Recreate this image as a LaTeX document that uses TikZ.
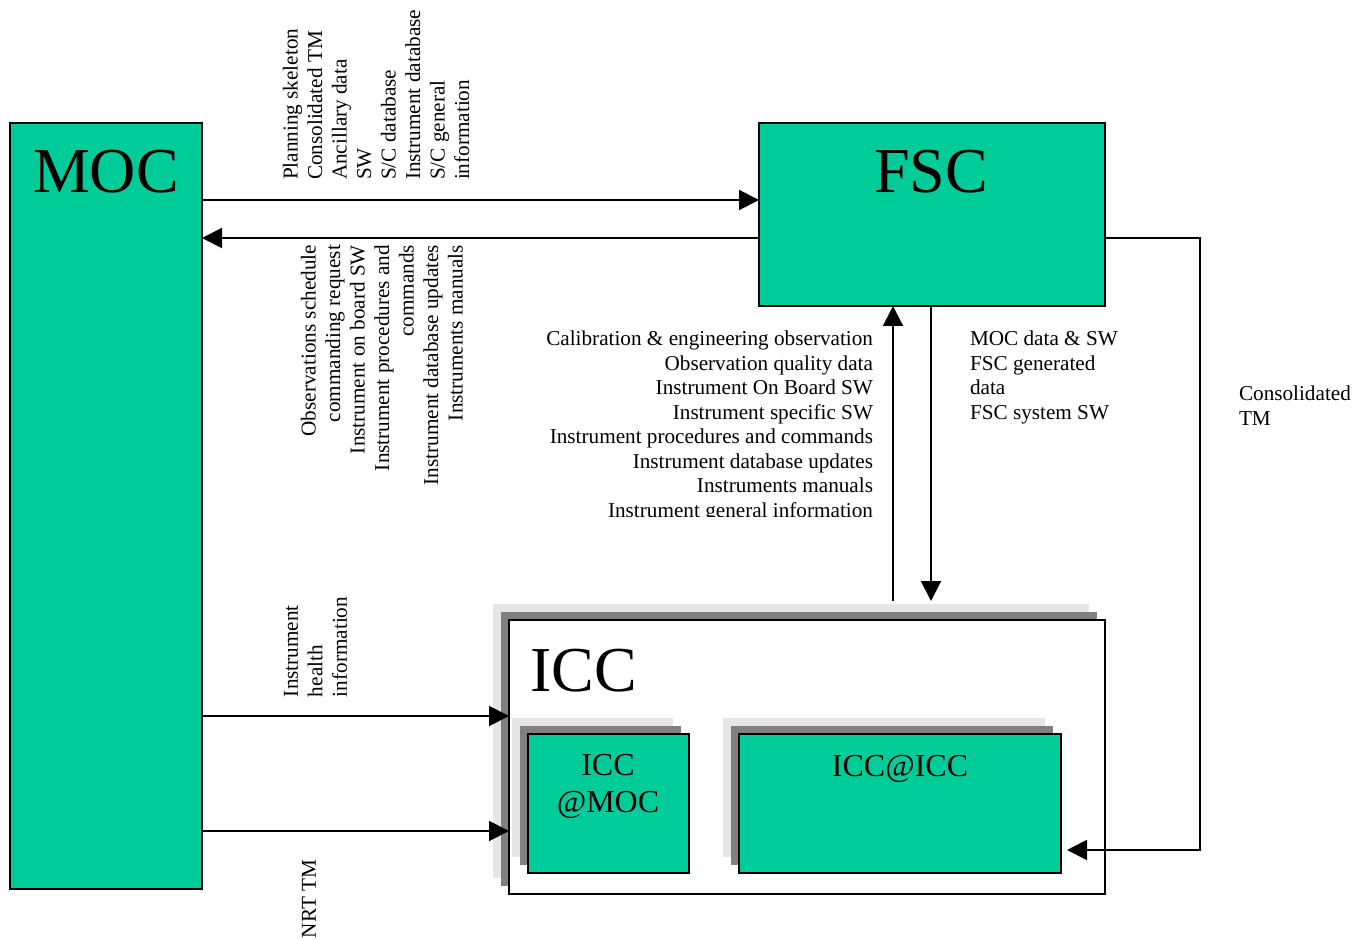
\documentclass[tikz,border=0pt]{standalone}
\usepackage{fontspec}
\setmainfont{Liberation Serif}
\usetikzlibrary{arrows.meta}
\definecolor{boxgreen}{RGB}{0,204,153}
\definecolor{shadowdark}{RGB}{128,128,128}
\definecolor{shadowlight}{RGB}{230,230,230}
\begin{document}
\begin{tikzpicture}[x=0.5pt,y=-0.5pt,
  box/.style={draw=black,line width=0.9pt,anchor=north west,inner sep=0pt,outer sep=0pt},
  greenbox/.style={box,fill=boxgreen},
  whitebox/.style={box,fill=white},
  darksh/.style={fill=shadowdark,anchor=north west,inner sep=0pt,outer sep=0pt},
  lightsh/.style={fill=shadowlight,anchor=north west,inner sep=0pt,outer sep=0pt},
  lbl/.style={font=\fontsize{10.6}{12.25}\selectfont,inner sep=0pt,outer sep=0pt},
  biglbl/.style={font=\fontsize{32}{36}\selectfont,inner sep=0pt,outer sep=0pt},
  midlbl/.style={font=\fontsize{16}{18.5}\selectfont,inner sep=0pt,outer sep=0pt},
  arr/.style={line width=1pt,-{Triangle[length=10pt,width=10pt]}},
  conn/.style={line width=1pt}]
\useasboundingbox (0,0) rectangle (1369,940);

% reference coordinates
\coordinate (ya) at (0,200);
\coordinate (yb) at (0,238);
\coordinate (yh) at (0,716);
\coordinate (yn) at (0,831);
\coordinate (yc) at (0,850);
\coordinate (ys) at (0,601);
\coordinate (xu) at (893,0);
\coordinate (xd) at (931,0);
\coordinate (xr) at (1200,0);

% shadows
\node[lightsh,minimum width=298pt,minimum height=137pt] (iccl) at (493,604) {};
\node[darksh,minimum width=298pt,minimum height=137pt] (iccd) at (501,612) {};
\node[whitebox,minimum width=298pt,minimum height=137pt] (icc) at (509,620) {};

\node[lightsh,minimum width=80.5pt,minimum height=69.5pt] (imocl) at (512,718) {};
\node[darksh,minimum width=80.5pt,minimum height=69.5pt] (imocd) at (520,726) {};
\node[greenbox,minimum width=80.5pt,minimum height=69.5pt] (imoc) at (528,734) {};

\node[lightsh,minimum width=161pt,minimum height=69.5pt] (iicl) at (723,718) {};
\node[darksh,minimum width=161pt,minimum height=69.5pt] (iicd) at (731,726) {};
\node[greenbox,minimum width=161pt,minimum height=69.5pt] (iic) at (739,734) {};

% main boxes
\node[greenbox,minimum width=96pt,minimum height=383pt] (moc) at (10,123) {};
\node[greenbox,minimum width=173pt,minimum height=91.5pt] (fsc) at (759,123) {};

% box labels
\node[biglbl,anchor=base] (moct) at (106,193) {MOC};
\node[biglbl,anchor=base] (fsct) at (931,193) {FSC};
\node[biglbl,anchor=base west] (icct) at (530,691) {ICC};
\node[midlbl,anchor=north,align=center] (imoct) at (608,754) {ICC\\@MOC};
\node[midlbl,anchor=base] (iict) at (900,776) {ICC@ICC};

% connectors
\draw[arr] (moc.east |- ya) -- (fsc.west |- ya);
\draw[arr] (fsc.west |- yb) -- (moc.east |- yb);
\draw[arr] (xu |- ys) -- (xu |- fsc.south);
\draw[arr] (xd |- fsc.south) -- (xd |- ys);
\draw[arr] (fsc.east |- yb) -| (xr |- yc) -- ([xshift=3pt]iic.east |- yc);
\draw[arr] (moc.east |- yh) -- (icc.west |- yh);
\draw[arr] (moc.east |- yn) -- (icc.west |- yn);

% connector labels
\node[lbl,rotate=90,anchor=north west,align=left] (l1) at (283,180)
  {Planning skeleton\\Consolidated TM\\Ancillary data\\SW\\S/C database\\Instrument database\\S/C general\\information};
\node[lbl,rotate=90,anchor=north east,align=right] (l2) at (301,245)
  {Observations schedule\\commanding request\\Instrument on board SW\\Instrument procedures and\\commands\\Instrument database updates\\Instruments manuals};
\begin{scope}
\clip (500,300) rectangle (885,516);
\node[lbl,anchor=north east,align=right] (l3) at (873,331)
  {Calibration \& engineering observation\\Observation quality data\\Instrument On Board SW\\Instrument specific SW\\Instrument procedures and commands\\Instrument database updates\\Instruments manuals\\Instrument general information};
\end{scope}
\node[lbl,anchor=north west,align=left] (l4) at (970,331)
  {MOC data \& SW\\FSC generated\\data\\FSC system SW};
\node[lbl,anchor=north west,align=left] (l5) at (1239,386)
  {Consolidated\\TM};
\node[lbl,rotate=90,anchor=north west,align=left] (l6) at (284,697)
  {Instrument\\health\\information};
\node[lbl,rotate=90,anchor=north west,align=left] (l7) at (302,938)
  {NRT TM};
\end{tikzpicture}
\end{document}
